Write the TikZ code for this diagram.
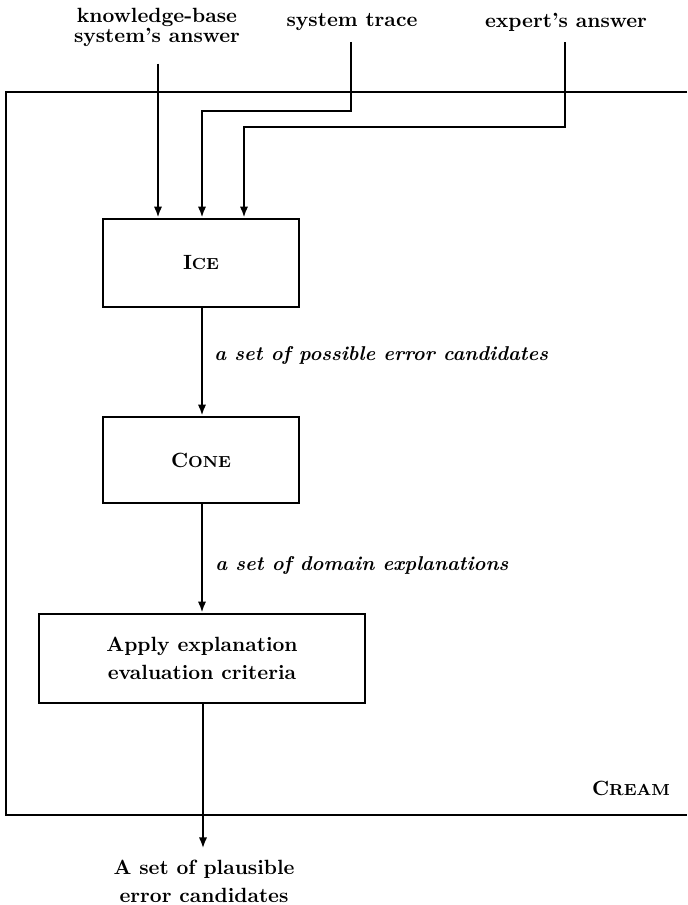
\documentclass[tikz,border=0pt]{standalone}
\usetikzlibrary{arrows.meta,calc}
\newcommand{\fakesc}[2]{#1{\fontsize{8}{9}\selectfont #2}}
\begin{document}
\begin{tikzpicture}[x=0.5pt,y=-0.5pt,
  font=\bfseries\fontsize{10.3}{12}\selectfont,
  line width=1.3pt,
  arr/.style={-{Latex[length=5.5pt,width=4.2pt]}},
  stepbox/.style={draw,line width=1.4pt,rectangle,align=center,inner sep=0pt},
  flowlbl/.style={font=\bfseries\itshape\fontsize{10}{12}\selectfont,inner sep=0pt},
  txt/.style={align=center,inner sep=0pt}]
\useasboundingbox (0,0) rectangle (687,905);

% surrounding CREAM frame, open on the right
\draw[line width=1.4pt] (687,92) -- (6,92) -- (6,815) -- (687,815);
\node[txt] (cream) at (631,788) {\fakesc{C}{REAM}};

% inputs
\node[txt] (kb) at (157,27) {knowledge-base\\[-2pt]system's answer};
\node[txt] (st) at (352,22) {system trace};
\node[txt] (ex) at (566,22) {expert's answer};

% processing steps
\node[stepbox,minimum width=98pt,minimum height=44pt] (ice) at (201,263) {\fakesc{I}{CE}};
\node[stepbox,minimum width=98pt,minimum height=43pt] (cone) at (201,460) {\fakesc{C}{ONE}};
\node[stepbox,minimum width=163pt,minimum height=44.5pt] (apply) at (202,658.5)
  {Apply explanation\\[2pt]evaluation criteria};

% output
\node[txt] (out) at (204,881) {A set of plausible\\[2pt]error candidates};

% input connectors
\draw[arr] ([yshift=-8pt]kb.south -| 158,0) -- (158,0 |- ice.north);
\draw[arr] ([yshift=-5pt]st.south -| 351,0) -- (351,111) -- (202,111) -- (202,0 |- ice.north);
\draw[arr] ([yshift=-5pt]ex.south -| 565,0) -- (565,127) -- (244,127) -- (244,0 |- ice.north);

% flow between steps
\draw[arr] (ice.south -| 202,0) -- node[flowlbl,anchor=west,pos=0.44,xshift=5.5pt] (l1)
  {a set of possible error candidates} (cone.north -| 202,0);
\draw[arr] (cone.south -| 202,0) -- node[flowlbl,anchor=west,pos=0.56,xshift=6pt] (l2)
  {a set of domain explanations} (apply.north -| 202,0);
\draw[arr] (apply.south -| 203,0) -- ([yshift=5pt]out.north -| 203,0);
\end{tikzpicture}
\end{document}
